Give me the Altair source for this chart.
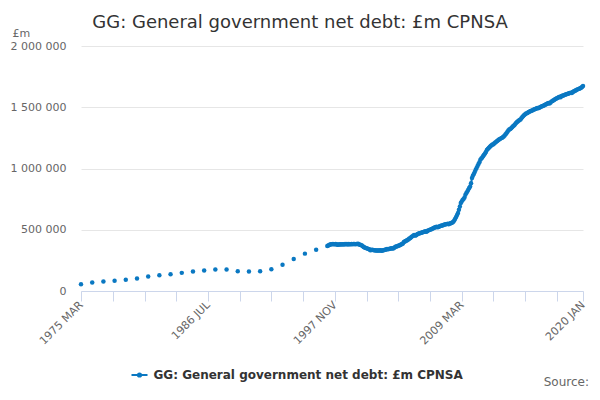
import altair as alt
import pandas as pd

SERIES = "GG: General government net debt: £m CPNSA"
BLUE = "#0a78c2"
FONT = "DejaVu Sans"

# Annual observations (March of each year), £m
annual_dates = [f"{y}-03-01" for y in range(1975, 1997)]
annual_values = [56000, 69000, 77000, 83000, 91000, 102000, 118000, 129000, 137000, 148000,
                 159000, 167000, 175000, 175000, 161000, 159000, 161000, 178000, 215000, 262000,
                 305000, 337000]

# Monthly observations from 1997 MAR to 2020 JAN, £m
monthly_values = [
    368000, 372000, 376000, 379000, 381000, 382000, 383000, 381000, 382000, 384000,                  # 1997 Mar-Dec
    380000, 378000, 379000, 379000, 381000, 380000, 382000, 381000, 380000, 383000, 382000, 384000,  # 1998
    380000, 383000, 382000, 381000, 383000, 382000, 384000, 383000, 382000, 383000, 384000, 385000,  # 1999
    379000, 378000, 376000, 372000, 366000, 360000, 356000, 352000, 349000, 346000, 343000, 341000,  # 2000
    333000, 334000, 336000, 334000, 332000, 333000, 331000, 330000, 331000, 330000, 331000, 332000,  # 2001
    328000, 330000, 333000, 334000, 336000, 339000, 342000, 341000, 343000, 345000, 347000, 349000,  # 2002
    346000, 349000, 355000, 361000, 364000, 366000, 369000, 372000, 376000, 380000, 384000, 388000,  # 2003
    400000, 404000, 408000, 412000, 417000, 422000, 428000, 433000, 440000, 446000, 452000, 458000,  # 2004
    452000, 456000, 462000, 466000, 469000, 471000, 473000, 476000, 479000, 482000, 484000, 488000,  # 2005
    483000, 487000, 493000, 497000, 500000, 503000, 507000, 510000, 514000, 518000, 521000, 525000,  # 2006
    520000, 523000, 527000, 530000, 532000, 534000, 537000, 540000, 542000, 544000, 546000, 549000,  # 2007
    545000, 550000, 553000, 556000, 560000, 565000, 575000, 590000, 605000, 620000, 637000, 664000,  # 2008
    690000, 718000, 730000, 742000, 752000, 764000, 786000, 800000, 813000, 826000, 840000, 853000,  # 2009
    880000, 922000, 940000, 955000, 972000, 989000, 1005000, 1020000, 1037000, 1052000, 1071000, 1082000,  # 2010
    1090000, 1102000, 1112000, 1122000, 1134000, 1152000, 1160000, 1168000, 1175000, 1183000, 1190000, 1196000,  # 2011
    1198000, 1207000, 1212000, 1218000, 1225000, 1230000, 1236000, 1240000, 1246000, 1250000, 1255000, 1262000,  # 2012
    1270000, 1280000, 1288000, 1301000, 1310000, 1318000, 1322000, 1329000, 1336000, 1344000, 1352000, 1360000,  # 2013
    1370000, 1378000, 1384000, 1390000, 1396000, 1400000, 1410000, 1420000, 1428000, 1437000, 1443000, 1449000,  # 2014
    1452000, 1458000, 1462000, 1466000, 1469000, 1472000, 1476000, 1479000, 1484000, 1486000, 1490000, 1494000,  # 2015
    1492000, 1496000, 1500000, 1505000, 1508000, 1511000, 1514000, 1518000, 1522000, 1526000, 1530000, 1534000,  # 2016
    1530000, 1536000, 1546000, 1550000, 1556000, 1560000, 1565000, 1570000, 1574000, 1578000, 1582000, 1586000,  # 2017
    1582000, 1592000, 1594000, 1596000, 1600000, 1603000, 1606000, 1609000, 1611000, 1614000, 1617000, 1619000,  # 2018
    1616000, 1624000, 1628000, 1632000, 1636000, 1640000, 1646000, 1648000, 1652000, 1656000, 1660000, 1666000,  # 2019
    1673000,                                                                                          # 2020 Jan
]
monthly_dates = list(pd.date_range("1997-03-01", periods=len(monthly_values), freq="MS").strftime("%Y-%m-%d"))

# Axis ticks (every 34 months) and labelled ticks
tick_months = [(1975, 3), (1978, 1), (1980, 11), (1983, 9), (1986, 7), (1989, 5), (1992, 3), (1995, 1),
               (1997, 11), (2000, 9), (2003, 7), (2006, 5), (2009, 3), (2012, 1), (2014, 11), (2017, 9),
               (2020, 1)]
label_months = ["1975-03", "1986-07", "1997-11", "2009-03", "2020-01"]
y_ticks = [0, 500000, 1000000, 1500000, 2000000]

annual_df = pd.DataFrame({"date": annual_dates, "value": annual_values, "series": SERIES})
monthly_df = pd.DataFrame({"date": monthly_dates, "value": monthly_values, "series": SERIES})
all_df = pd.concat([annual_df, monthly_df], ignore_index=True)

label_list = ",".join(f"'{m}'" for m in label_months)
x_enc = alt.X(
    "date:T",
    title=None,
    scale=alt.Scale(type="utc", nice=False,
                    domain=[alt.DateTime(year=1975, month=3, date=1, utc=True),
                            alt.DateTime(year=2020, month=1, date=1, utc=True)]),
    axis=alt.Axis(
        values=[alt.DateTime(year=y, month=m, date=1, utc=True) for y, m in tick_months],
        labelExpr=f"indexof([{label_list}], utcFormat(datum.value, '%Y-%m')) >= 0 ? upper(utcFormat(datum.value, '%Y %b')) : ''",
        labelAngle=-45, labelAlign="right", labelBaseline="middle", labelPadding=2,
        labelOverlap=False, labelFlush=False, labelFont=FONT, labelFontSize=11, labelColor="#666666",
        tickSize=10, tickColor="#ccd6eb", domainColor="#ccd6eb", grid=False,
    ),
)
y_enc = alt.Y(
    "value:Q",
    scale=alt.Scale(domain=[0, 2000000], nice=False),
    axis=alt.Axis(
        title="£m", titleAngle=0, titleAlign="left", titleBaseline="alphabetic",
        titleX=-69, titleY=-10, titleFont=FONT, titleFontSize=11, titleFontWeight="normal",
        titleColor="#666666",
        values=y_ticks,
        labelExpr="replace(replace(format(datum.value, ','), ',', ' '), ',', ' ')",
        labelFont=FONT, labelFontSize=11, labelColor="#666666", labelPadding=15,
        domain=False, ticks=False, gridColor="#e6e6e6",
    ),
)

legend = alt.Legend(
    title=None, orient="none", legendX=49.5, legendY=320, padding=0,
    symbolType="M-1,0H1M-0.2,0a0.2,0.2 0 1,0 0.4,0a0.2,0.2 0 1,0 -0.4,0",
    symbolSize=256, symbolStrokeWidth=2, symbolFillColor=BLUE, symbolStrokeColor=BLUE,
    labelFont=FONT, labelFontSize=12, labelFontWeight="bold", labelColor="#333333",
    labelOffset=5, labelLimit=0,
)
color_enc = alt.Color("series:N", scale=alt.Scale(domain=[SERIES], range=[BLUE]), legend=legend)

line = alt.Chart(monthly_df).mark_line(strokeWidth=2).encode(x=x_enc, y=y_enc, color=color_enc)
points = alt.Chart(all_df).mark_point(filled=True, size=20, opacity=1).encode(x=x_enc, y=y_enc, color=color_enc)
source = alt.Chart(pd.DataFrame({"t": ["Source:"]})).mark_text(
    align="right", baseline="alphabetic", font=FONT, fontSize=12, color="#666666"
).encode(text="t:N", x=alt.value(508), y=alt.value(340))

chart = alt.layer(line, points, source).properties(
    width=502, height=245,
    autosize=alt.AutoSizeParams(type="none"),
    padding={"left": 73, "top": 38, "right": 8, "bottom": 101},
    title=alt.TitleParams(SERIES, font=FONT, fontSize=18, fontWeight="normal", color="#333333",
                          anchor="middle", frame="group", dx=-32, dy=9, offset=4),
).configure_view(stroke=None)

chart.save("out.html", embed_options={"renderer": "svg", "actions": False})
